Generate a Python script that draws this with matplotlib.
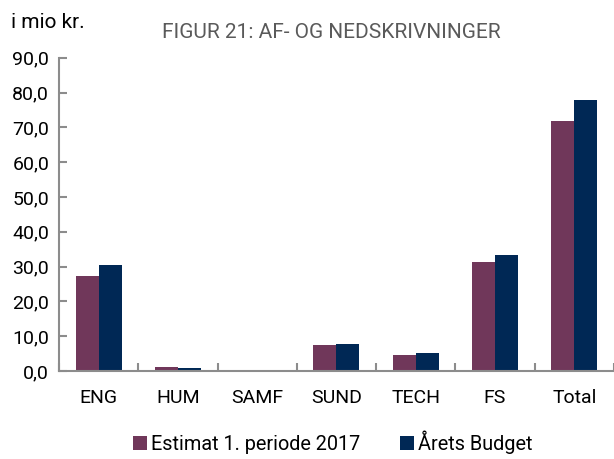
import numpy as np
import matplotlib.pyplot as plt

plt.rcParams['font.family'] = ['Roboto', 'DejaVu Sans']

categories = ['ENG', 'HUM', 'SAMF', 'SUND', 'TECH', 'FS', 'Total']
estimat = [27.3, 1.0, 0.0, 7.3, 4.6, 31.3, 71.8]
budget = [30.3, 0.8, 0.0, 7.8, 5.1, 33.3, 77.9]
yticks = np.arange(0, 91, 10)

purple = '#70375a'
navy = '#002855'
grey = '#8c8c8c'

fig = plt.figure(figsize=(6.14, 4.59), dpi=100)
ax = fig.add_axes([0.096, 0.192, 0.904, 0.682])

x = np.arange(len(categories))
w = 0.29
ax.bar(x - w / 2, estimat, w, color=purple, label='Estimat 1. periode 2017')
ax.bar(x + w / 2, budget, w, color=navy, label='Årets Budget')

ax.set_xlim(-0.5, len(categories) - 0.5)
ax.set_ylim(0, 90)
ax.set_yticks(yticks)
ax.set_yticklabels([f'{v:.1f}'.replace('.', ',') for v in yticks], fontsize=14)

ax.set_xticks(x)
ax.set_xticklabels(categories, fontsize=14)
ax.set_xticks(np.arange(len(categories) + 1) - 0.5, minor=True)
ax.tick_params(axis='x', which='major', length=0, pad=13)
ax.tick_params(axis='x', which='minor', direction='in', length=6, width=1.5, color=grey)
ax.tick_params(axis='y', direction='in', length=6, width=1.5, color=grey, pad=7)

for s in ['top', 'right']:
    ax.spines[s].set_visible(False)
for s in ['left', 'bottom']:
    ax.spines[s].set_color(grey)
    ax.spines[s].set_linewidth(1.5)

fig.text(0.018, 0.952, 'i mio kr.', fontsize=15, ha='left', va='center')
fig.text(0.54, 0.93, 'FIGUR 21: AF- OG NEDSKRIVNINGER', fontsize=15,
         color='#5a5a5a', ha='center', va='center')

fig.legend(loc='lower center', bbox_to_anchor=(0.542, -0.028), ncol=2, frameon=False,
           fontsize=14.3, handlelength=0.7, handleheight=0.7, handletextpad=0.2,
           columnspacing=2.0)

fig.savefig('out.png', dpi=100)
